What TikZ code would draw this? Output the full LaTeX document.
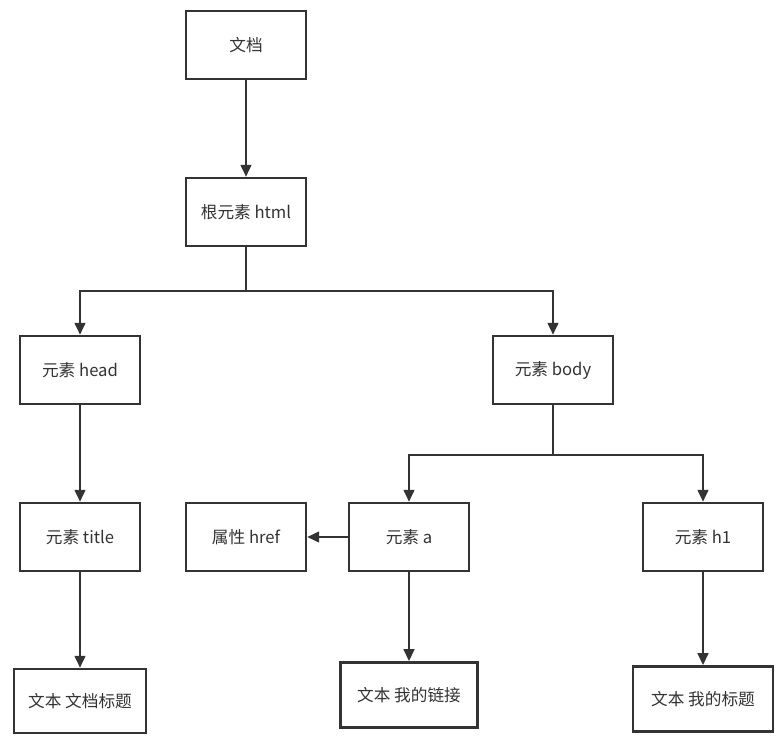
\documentclass[tikz,border=0pt]{standalone}
\usepackage{fontspec}
\setmainfont{Noto Sans CJK SC}
\usetikzlibrary{arrows.meta,positioning}
\definecolor{linegray}{HTML}{333333}
\definecolor{textgray}{HTML}{333333}
\tikzset{
  domnode/.style={draw=linegray, line width=1.8pt, fill=white, shape=rectangle,
    minimum width=90pt, minimum height=51pt, text=textgray, font=\fontsize{12.5pt}{15pt}\selectfont},
  leafnode/.style={domnode, minimum width=100pt, minimum height=49pt},
  link/.style={draw=linegray, line width=1.8pt, -{Triangle[length=9pt,width=8pt]}},
}
\begin{document}
\begin{tikzpicture}[x=0.75pt,y=-0.75pt]
    \useasboundingbox (0,0) rectangle (783,746);
    % tree nodes
    \node[domnode] (doc)   at (246,45)  {文档};
    \node[domnode] (html)  at (246,212) {根元素 html};
    \node[domnode] (head)  at (80,370)  {元素 head};
    \node[domnode] (body)  at (553,370) {元素 body};
    \node[domnode] (title) at (80,537)  {元素 title};
    \node[domnode] (href)  at (246,537) {属性 href};
    \node[domnode] (a)     at (409,537) {元素 a};
    \node[domnode] (h1)    at (703,537) {元素 h1};
    \node[leafnode, minimum width=99pt, minimum height=48pt] (titletext) at (80,701) {文本 文档标题};
    \node[leafnode, minimum width=103pt] (atext)  at (409,695) {文本 我的链接};
    \node[leafnode, minimum width=105pt] (h1text) at (703,699) {文本 我的标题};
    % branch points
    \coordinate (htmlsplit) at (246,291);
    \coordinate (bodysplit) at (553,455);
    % connectors
    \draw[link] (doc) -- (html);
    \draw[draw=linegray, line width=1.8pt] (html) -- (htmlsplit);
    \draw[link] (htmlsplit) -| (head);
    \draw[link] (htmlsplit) -| (body);
    \draw[link] (head) -- (title);
    \draw[link] (title) -- (titletext);
    \draw[draw=linegray, line width=1.8pt] (body) -- (bodysplit);
    \draw[link] (bodysplit) -| (a);
    \draw[link] (bodysplit) -| (h1);
    \draw[link] (a) -- (href);
    \draw[link] (a) -- (atext);
    \draw[link] (h1) -- (h1text);
\end{tikzpicture}
\end{document}
